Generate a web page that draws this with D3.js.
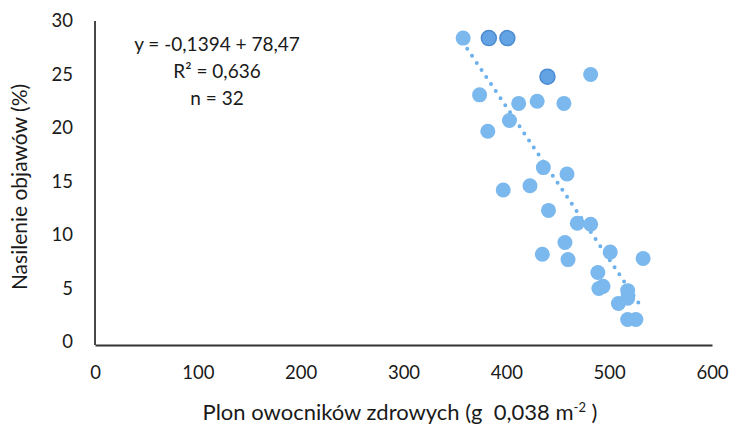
<html>
<head>
<meta charset="utf-8">
<script src="https://d3js.org/d3.v7.min.js"></script>
<style>
  body { margin: 0; background: #fff; }
  text { font-family: Lato, "Noto Sans", sans-serif; fill: #1a1a1a; }
  .pt { fill: #7ab8ee; }
  .pt.dark { fill: #63a3e4; stroke: #4b8bd2; stroke-width: 1.5; }
  .trend { fill: none; stroke: #6cb0ec; stroke-width: 4; stroke-linecap: round; stroke-dasharray: 0 8.5; }
</style>
</head>
<body>
<svg id="chart" width="731" height="427"></svg>
<script>
// yield of healthy fruiting bodies vs. symptom severity
var plon =     [358, 383, 401, 440, 482, 374, 412, 430, 456, 403, 382, 436, 459, 397, 423, 441,
                469, 482, 457, 435, 460, 501, 533, 489, 494, 490, 518, 509, 518, 518, 526];
var nasilenie = [28.4, 28.4, 28.4, 24.8, 25.0, 23.1, 22.3, 22.5, 22.3, 20.7, 19.7, 16.3, 15.7, 14.2, 14.6, 12.3,
                11.1, 11.0, 9.3, 8.2, 7.7, 8.4, 7.8, 6.5, 5.2, 5.0, 4.8, 3.6, 4.1, 2.1, 2.1];
var overlap = [1, 2, 3]; // darker, overlapping markers

var trendX = [362, 529];
var trendY = [27.4, 3.6];

var xTicks = [0, 100, 200, 300, 400, 500, 600];
var yTicks = [0, 5, 10, 15, 20, 25, 30];
var annotation = ["y = -0,1394 + 78,47", "R\u00b2 = 0,636", "n = 32"];

var svg = d3.select("#chart");

var x = d3.scaleLinear().domain([0, 600]).range([95, 712]);
var y = d3.scaleLinear().domain([0, 30]).range([342, 21]);

// axes
svg.append("g")
  .attr("transform", "translate(0,345)")
  .call(d3.axisBottom(x).tickValues(xTicks).tickSize(0).tickPadding(21))
  .call(function(g) {
    g.select(".domain").attr("stroke", "#333").attr("stroke-width", 1.8);
    g.selectAll("text").style("font-size", "18.5px");
  });

svg.append("g")
  .attr("transform", "translate(95,0)")
  .call(d3.axisLeft(y).tickValues(yTicks).tickSize(0).tickPadding(22))
  .call(function(g) {
    g.select(".domain").attr("stroke", "#333").attr("stroke-width", 1.8)
      .attr("d", "M0," + y(30) + "V345");
    g.selectAll("text").style("font-size", "18.5px");
  });

// trend line
var pts = trendX.map(function(d, i) { return [d, trendY[i]]; });
svg.append("path")
  .datum(pts)
  .attr("class", "trend")
  .attr("d", d3.line().x(function(d) { return x(d[0]); }).y(function(d) { return y(d[1]); }));

// points
svg.selectAll("circle.pt")
  .data(plon)
  .enter().append("circle")
  .attr("class", function(d, i) { return overlap.indexOf(i) >= 0 ? "pt dark" : "pt"; })
  .attr("cx", function(d) { return x(d); })
  .attr("cy", function(d, i) { return y(nasilenie[i]); })
  .attr("r", 7.5);

// equation box
svg.selectAll("text.ann")
  .data(annotation)
  .enter().append("text")
  .attr("class", "ann")
  .attr("x", 217)
  .attr("y", function(d, i) { return 51 + i * 27; })
  .attr("text-anchor", "middle")
  .style("font-size", "19px")
  .text(function(d) { return d; });

// axis titles
var xt = svg.append("text")
  .attr("x", 400).attr("y", 420)
  .attr("text-anchor", "middle")
  .style("font-size", "22px")
  .style("white-space", "pre");
xt.append("tspan").text("Plon owocników zdrowych (g  0,038 m");
xt.append("tspan").attr("dy", -8).style("font-size", "13px").text("-2");
xt.append("tspan").attr("dy", 8).text(" )");

svg.append("text")
  .attr("transform", "translate(27,187) rotate(-90)")
  .attr("text-anchor", "middle")
  .style("font-size", "21px")
  .text("Nasilenie objawów (%)");
</script>
</body>
</html>
